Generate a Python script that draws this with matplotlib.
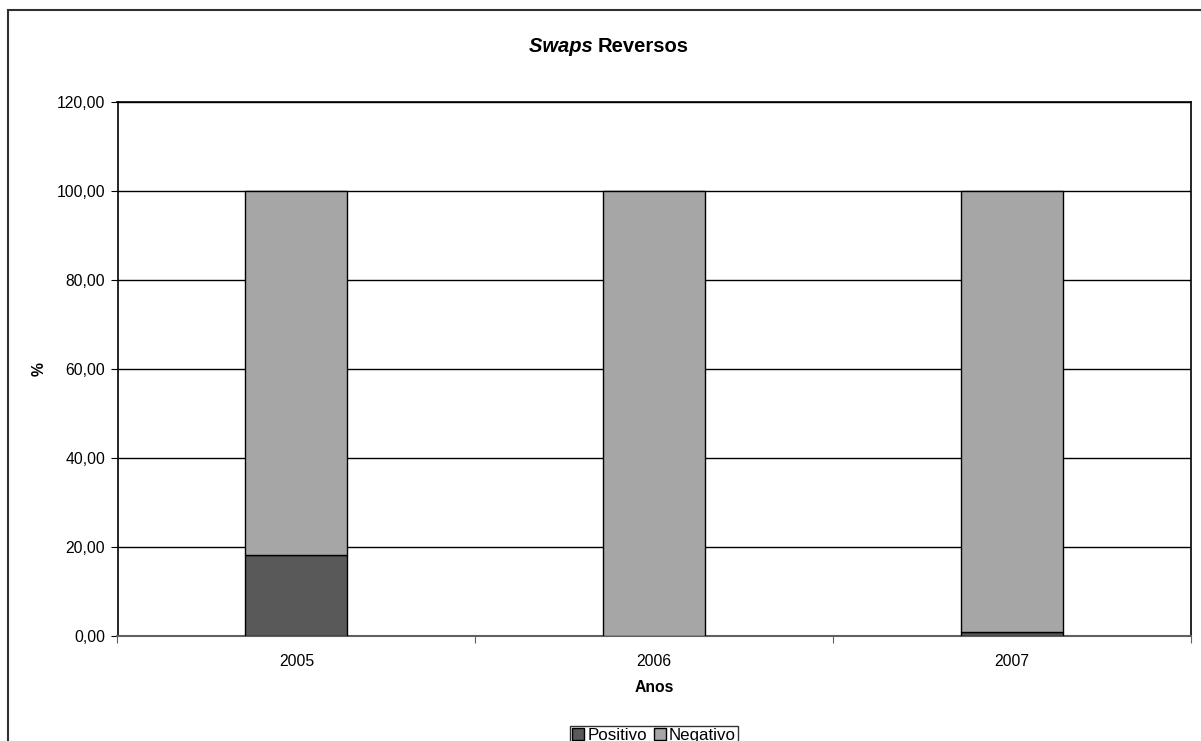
import numpy as np
import matplotlib
matplotlib.use("Agg")
import matplotlib.pyplot as plt
from matplotlib.patches import Rectangle

plt.rcParams['font.family'] = ['Liberation Sans', 'DejaVu Sans']

anos = ['2005', '2006', '2007']
positivo = [18.2, 0.0, 1.0]
negativo = [81.8, 100.0, 99.0]
yticks = [0, 20, 40, 60, 80, 100, 120]

W, H = 1201, 741
fig = plt.figure(figsize=(W / 100, H / 100), dpi=100)

# outer chart border (runs off the right and bottom edges)
fig.patches.append(Rectangle((8 / W, -0.05), 1.1, 1 - 10 / H + 0.05,
                             transform=fig.transFigure, fill=False,
                             edgecolor='#303030', linewidth=1.5))

ax = fig.add_axes([117.5 / W, (H - 636) / H, (1191 - 117.5) / W, (636 - 102) / H])

x = np.arange(len(anos))
w = 0.285
ax.bar(x, positivo, w, color='#595959', edgecolor='black', linewidth=1, label='Positivo', zorder=3)
ax.bar(x, negativo, w, bottom=positivo, color='#A6A6A6', edgecolor='black', linewidth=1,
       label='Negativo', zorder=3)

ax.set_xlim(-0.5, len(anos) - 0.5)
ax.set_ylim(0, 120)
ax.set_yticks(yticks)
ax.set_yticklabels([f'{v:.2f}'.replace('.', ',') for v in yticks], fontsize=11.3)
ax.yaxis.grid(True, color='black', linewidth=1, zorder=0)
ax.set_axisbelow(True)

ax.set_xticks(np.arange(-0.5, len(anos), 1.0))
ax.set_xticklabels([])
ax.set_xticks(x, minor=True)
ax.set_xticklabels(anos, minor=True, fontsize=11.3)
ax.tick_params(axis='x', which='minor', length=0, pad=13)
ax.tick_params(axis='x', which='major', length=5, direction='out', color='#606060')
ax.tick_params(axis='y', length=5, direction='out', pad=4)

for s in ax.spines.values():
    s.set_linewidth(1.2)
    s.set_color('black')
ax.spines['bottom'].set_color('#606060')
ax.spines['bottom'].set_linewidth(1.5)

ax.set_xlabel('Anos', fontsize=11.3, fontweight='bold', labelpad=8)
ax.set_ylabel('%', fontsize=11.3, fontweight='bold', labelpad=7)

fig.text(598 / W, 1 - 47 / H, 'Swaps ', fontsize=14.5, fontweight='bold', fontstyle='italic',
         ha='right', va='center')
fig.text(598 / W, 1 - 47 / H, 'Reversos', fontsize=14.5, fontweight='bold',
         ha='left', va='center')

leg = fig.legend(loc='upper center', bbox_to_anchor=(654 / W, 1 - 726 / H), ncol=2,
                 fontsize=12.2, frameon=True, fancybox=False, edgecolor='black',
                 handlelength=0.7, handleheight=0.7, handletextpad=0.2, columnspacing=0.4,
                 borderpad=0.1, borderaxespad=0)
leg.get_frame().set_linewidth(1)

fig.savefig('out.png', dpi=100)
